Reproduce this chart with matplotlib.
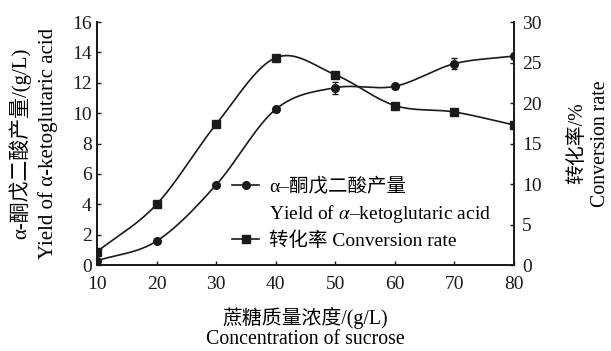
import numpy as np
import matplotlib.pyplot as plt
from matplotlib.lines import Line2D

plt.rcParams['font.family'] = ['Liberation Serif', 'Noto Sans CJK SC']
plt.rcParams['mathtext.fontset'] = 'stix'

# sucrose concentration (g/L)
sucrose = [10, 20, 30, 40, 50, 60, 70, 80]
# alpha-ketoglutaric acid yield (g/L), left axis
akg_yield = [0.28, 1.58, 5.28, 10.26, 11.68, 11.77, 13.26, 13.76]
akg_err = [0.05, 0.1, 0.1, 0.15, 0.4, 0.15, 0.35, 0.2]
# conversion rate (%), right axis
conv_rate = [1.65, 7.5, 17.4, 25.6, 23.5, 19.7, 18.9, 17.3]

xticks = [10, 20, 30, 40, 50, 60, 70, 80]
yticks_left = [0, 2, 4, 6, 8, 10, 12, 14, 16]
yticks_right = [0, 5, 10, 15, 20, 25, 30]

INK = '#1a1a1a'


# smooth curve through the points (cubic hermite, catmull-rom tangents)
def smooth(x, y, n=40):
   x = np.asarray(x, float)
   y = np.asarray(y, float)
   m = np.zeros_like(y)
   m[1:-1] = (y[2:] - y[:-2]) / (x[2:] - x[:-2])
   m[0] = (y[1] - y[0]) / (x[1] - x[0])
   m[-1] = (y[-1] - y[-2]) / (x[-1] - x[-2])
   xs, ys = [], []
   for i in range(len(x) - 1):
      h = x[i + 1] - x[i]
      t = np.linspace(0, 1, n, endpoint=False)
      h00 = 2 * t**3 - 3 * t**2 + 1
      h10 = t**3 - 2 * t**2 + t
      h01 = -2 * t**3 + 3 * t**2
      h11 = t**3 - t**2
      xs.append(x[i] + t * h)
      ys.append(h00 * y[i] + h10 * h * m[i] + h01 * y[i + 1] + h11 * h * m[i + 1])
   xs.append([x[-1]])
   ys.append([y[-1]])
   return np.concatenate(xs), np.concatenate(ys)


fig = plt.figure(figsize=(6.11, 3.51), dpi=100)
ax = fig.add_axes([0.159, 0.245, 0.682, 0.692])
ax2 = ax.twinx()

sx, sy = smooth(sucrose, akg_yield)
ax.plot(sx, sy, color=INK, lw=1.2)
ax.errorbar(sucrose, akg_yield, yerr=akg_err, fmt='o', color=INK, ms=5.5,
            capsize=2.5, elinewidth=1, zorder=3)

sx2, sy2 = smooth(sucrose, conv_rate)
ax2.plot(sx2, sy2, color=INK, lw=1.2)
ax2.plot(sucrose, conv_rate, 's', color=INK, ms=6, zorder=3)

ax.set_xlim(10, 80)
ax.set_ylim(0, 16)
ax2.set_ylim(0, 30)
ax.set_xticks(xticks)
ax.set_yticks(yticks_left)
ax2.set_yticks(yticks_right)

for a in (ax, ax2):
   a.spines['top'].set_visible(False)
   for s in a.spines.values():
      s.set_linewidth(1.3)
      s.set_color(INK)
   a.tick_params(direction='in', length=3, width=1, labelsize=14, colors=INK)
ax.tick_params(axis='x', pad=8)
ax.tick_params(axis='y', pad=4)
ax2.tick_params(axis='y', pad=6)

ax.set_xlabel('蔗糖质量浓度/(g/L)\nConcentration of sucrose', fontsize=14.3,
              linespacing=1.05, labelpad=10)
ax.set_ylabel('α-酮戊二酸产量/(g/L)\nYield of α-ketoglutaric acid', fontsize=15,
              linespacing=1.45, labelpad=10)
ax2.set_ylabel('转化率/%\nConversion rate', fontsize=14.3, linespacing=1.25,
               rotation=90, labelpad=19)

handles = [
   Line2D([], [], color=INK, lw=1.2, marker='o', ms=5.5),
   Line2D([], [], linestyle='none'),
   Line2D([], [], color=INK, lw=1.2, marker='s', ms=6),
]
labels = ['α–酮戊二酸产量',
          r'Yield of $\alpha$–ketoglutaric acid',
          '转化率 Conversion rate']
ax2.legend(handles, labels, frameon=False, fontsize=14, loc='lower left',
           bbox_to_anchor=(0.282, -0.01), handlelength=1.4, handletextpad=0.5,
           labelspacing=0.35)

fig.savefig('out.png', dpi=100)
